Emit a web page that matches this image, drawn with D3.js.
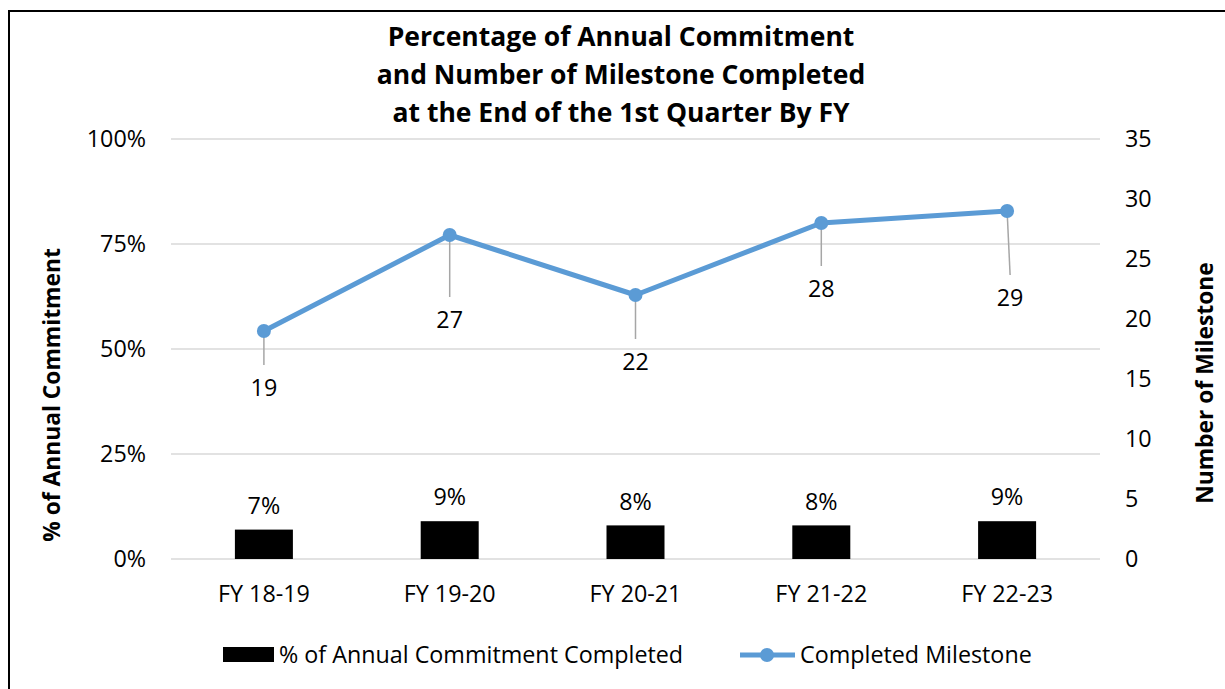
<!DOCTYPE html>
<html>
<head>
<meta charset="utf-8">
<script src="https://cdn.jsdelivr.net/npm/d3@7/dist/d3.min.js"></script>
<style>
body { margin: 0; background: #fff; }
text { font-family: "Open Sans", "Noto Sans", sans-serif; fill: #000; }
</style>
</head>
<body>
<div id="chart"></div>
<script>
// data
var years = ["FY 18-19", "FY 19-20", "FY 20-21", "FY 21-22", "FY 22-23"];
var pctCompleted = [0.07, 0.09, 0.08, 0.08, 0.09];
var milestones = [19, 27, 22, 28, 29];
var pctTicks = [0, 0.25, 0.5, 0.75, 1];
var msTicks = [0, 5, 10, 15, 20, 25, 30, 35];
var titleLines = ["Percentage of Annual Commitment", "and Number of Milestone Completed", "at the End of the 1st Quarter By FY"];

// where excel left the milestone labels (px below / right of point)
var lblDy = [57, 85, 67, 66, 87];
var lblDx = [0, 0, 0, 0, 3];

var width = 1225, height = 689;
var plotL = 171, plotR = 1100, plotT = 139, plotB = 559;
var fs = 23.3;

var svg = d3.select("#chart").append("svg")
	.attr("width", width)
	.attr("height", height);

// outer frame (only top + left are on screen)
svg.append("rect")
	.attr("x", 9).attr("y", 11)
	.attr("width", width + 20).attr("height", height + 20)
	.attr("fill", "none")
	.attr("stroke", "#000")
	.attr("stroke-width", 2);

var xScale = d3.scaleBand()
	.domain(years)
	.range([plotL, plotR]);

var yLeft = d3.scaleLinear().domain([0, 1]).range([plotB, plotT]);
var yRight = d3.scaleLinear().domain([0, 35]).range([plotB, plotT]);

// gridlines
svg.append("g").selectAll("line")
	.data(pctTicks)
	.enter()
	.append("line")
	.attr("x1", plotL).attr("x2", plotR)
	.attr("y1", function(d) { return yLeft(d); })
	.attr("y2", function(d) { return yLeft(d); })
	.attr("stroke", "#d9d9d9")
	.attr("stroke-width", 1.5);

// left axis
var leftAxis = svg.append("g")
	.attr("transform", "translate(" + (plotL - 25) + ",0)")
	.call(d3.axisLeft(yLeft).tickValues(pctTicks).tickFormat(d3.format(".0%")).tickSize(0).tickPadding(0));
leftAxis.select(".domain").remove();
leftAxis.selectAll("text")
	.attr("font-size", fs)
	.attr("font-family", null)
	.attr("fill", "#000");

// right axis
var rightAxis = svg.append("g")
	.attr("transform", "translate(" + (plotR + 25) + ",0)")
	.call(d3.axisRight(yRight).tickValues(msTicks).tickSize(0).tickPadding(0));
rightAxis.select(".domain").remove();
rightAxis.selectAll("text")
	.attr("font-size", fs)
	.attr("font-family", null)
	.attr("fill", "#000");

// x axis labels
var xAxis = svg.append("g")
	.attr("transform", "translate(0," + (plotB + 35) + ")")
	.call(d3.axisBottom(xScale).tickSize(0).tickPadding(0));
xAxis.select(".domain").remove();
xAxis.selectAll("text")
	.attr("font-size", fs)
	.attr("font-family", null)
	.attr("fill", "#000")
	.attr("dy", "0.35em");

// bars
var barW = 58;
svg.append("g").selectAll("rect")
	.data(pctCompleted)
	.enter()
	.append("rect")
	.attr("x", function(d, i) { return xScale(years[i]) + xScale.bandwidth() / 2 - barW / 2; })
	.attr("y", function(d) { return yLeft(d); })
	.attr("width", barW)
	.attr("height", function(d) { return plotB - yLeft(d); })
	.attr("fill", "#000");

svg.append("g").selectAll("text")
	.data(pctCompleted)
	.enter()
	.append("text")
	.attr("x", function(d, i) { return xScale(years[i]) + xScale.bandwidth() / 2; })
	.attr("y", function(d) { return yLeft(d) - 24; })
	.attr("dy", "0.35em")
	.attr("text-anchor", "middle")
	.attr("font-size", fs)
	.text(function(d) { return d3.format(".0%")(d); });

// milestone line
var cx = function(d, i) { return xScale(years[i]) + xScale.bandwidth() / 2; };
var lineGen = d3.line()
	.x(cx)
	.y(function(d) { return yRight(d); });

// leader lines
svg.append("g").selectAll("line")
	.data(milestones)
	.enter()
	.append("line")
	.attr("x1", cx)
	.attr("y1", function(d) { return yRight(d); })
	.attr("x2", function(d, i) { return cx(d, i) + lblDx[i]; })
	.attr("y2", function(d, i) { return yRight(d) + lblDy[i] - 23; })
	.attr("stroke", "#a6a6a6")
	.attr("stroke-width", 1.5);

svg.append("path")
	.datum(milestones)
	.attr("d", lineGen)
	.attr("fill", "none")
	.attr("stroke", "#5b9bd5")
	.attr("stroke-width", 5)
	.attr("stroke-linejoin", "round");

svg.append("g").selectAll("circle")
	.data(milestones)
	.enter()
	.append("circle")
	.attr("cx", cx)
	.attr("cy", function(d) { return yRight(d); })
	.attr("r", 7)
	.attr("fill", "#5b9bd5");

svg.append("g").selectAll("text")
	.data(milestones)
	.enter()
	.append("text")
	.attr("x", function(d, i) { return cx(d, i) + lblDx[i]; })
	.attr("y", function(d, i) { return yRight(d) + lblDy[i]; })
	.attr("dy", "0.35em")
	.attr("text-anchor", "middle")
	.attr("font-size", fs)
	.text(function(d) { return d; });

// title
svg.append("g").selectAll("text")
	.data(titleLines)
	.enter()
	.append("text")
	.attr("x", 621)
	.attr("y", function(d, i) { return 37 + i * 38; })
	.attr("dy", "0.35em")
	.attr("text-anchor", "middle")
	.attr("font-size", 26.5)
	.attr("font-weight", "bold")
	.text(function(d) { return d; });

// axis titles
svg.append("text")
	.attr("transform", "translate(52,395) rotate(-90)")
	.attr("dy", "0.35em")
	.attr("text-anchor", "middle")
	.attr("font-size", 22.8)
	.attr("font-weight", "bold")
	.text("% of Annual Commitment");

svg.append("text")
	.attr("transform", "translate(1205,383) rotate(-90)")
	.attr("dy", "0.35em")
	.attr("text-anchor", "middle")
	.attr("font-size", 22.8)
	.attr("font-weight", "bold")
	.text("Number of Milestone");

// legend
var legend = svg.append("g");
legend.append("rect")
	.attr("x", 223).attr("y", 647)
	.attr("width", 51).attr("height", 15)
	.attr("fill", "#000");
legend.append("text")
	.attr("x", 279).attr("y", 655)
	.attr("dy", "0.35em")
	.attr("font-size", fs)
	.text("% of Annual Commitment Completed");

legend.append("line")
	.attr("x1", 740).attr("x2", 795)
	.attr("y1", 655).attr("y2", 655)
	.attr("stroke", "#5b9bd5")
	.attr("stroke-width", 5);
legend.append("circle")
	.attr("cx", 767).attr("cy", 655).attr("r", 7)
	.attr("fill", "#5b9bd5");
legend.append("text")
	.attr("x", 800).attr("y", 655)
	.attr("dy", "0.35em")
	.attr("font-size", fs)
	.text("Completed Milestone");
</script>
</body>
</html>
